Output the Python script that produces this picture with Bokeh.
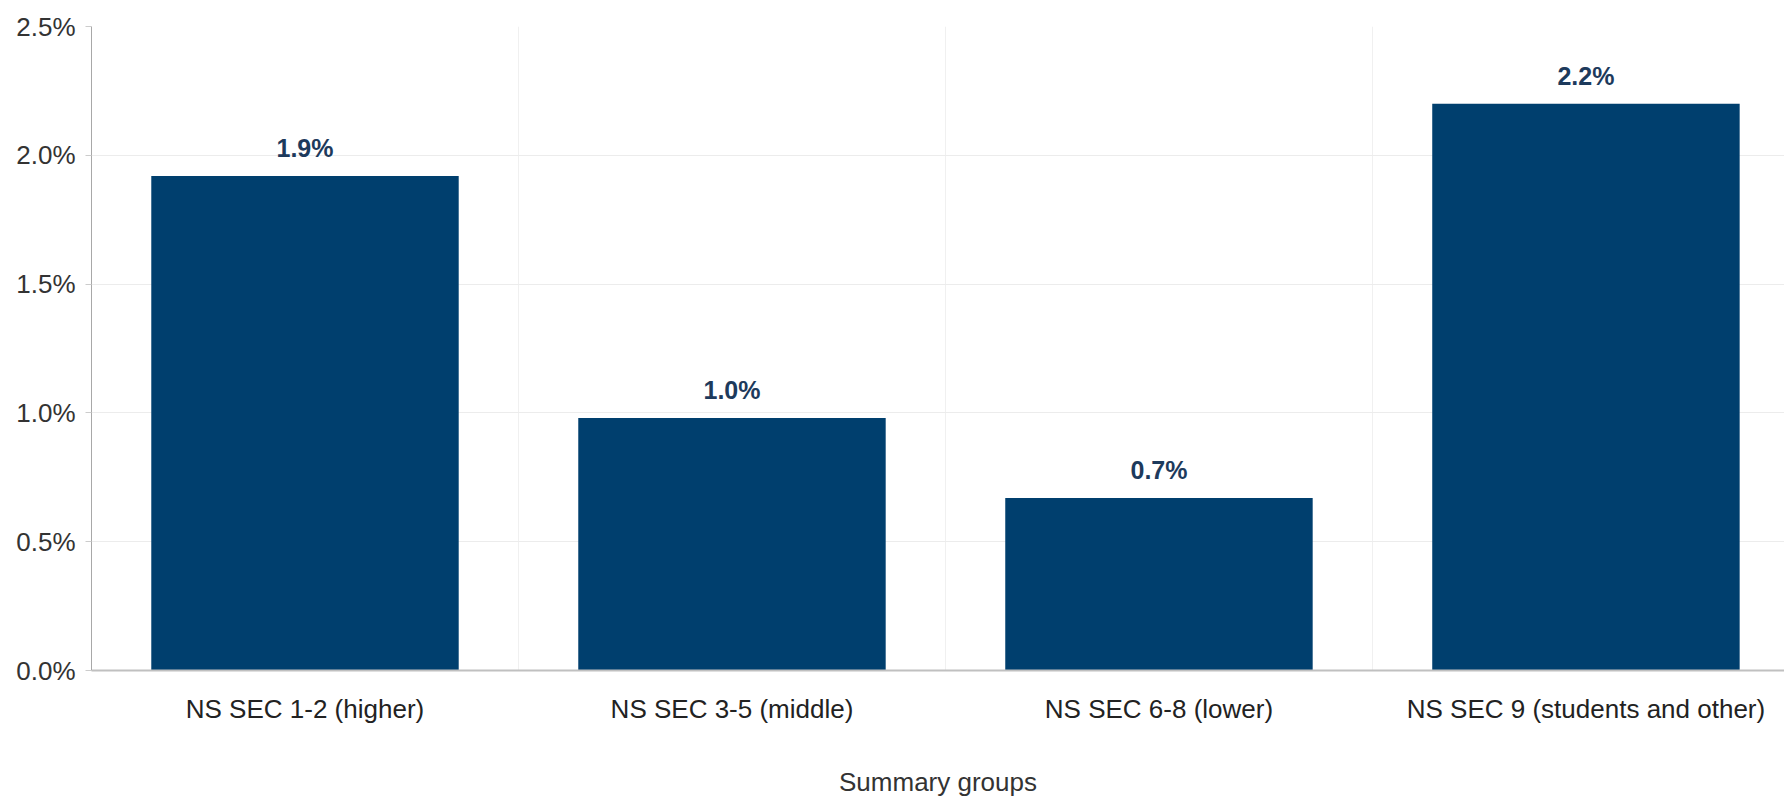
from bokeh.plotting import figure
from bokeh.models import Range1d, FixedTicker, PrintfTickFormatter, ColumnDataSource
from bokeh.core.properties import value
from bokeh.embed import file_html
from bokeh.resources import INLINE

categories = ["NS SEC 1-2 (higher)", "NS SEC 3-5 (middle)", "NS SEC 6-8 (lower)", "NS SEC 9 (students and other)"]
values = [1.92, 0.98, 0.67, 2.2]
y_ticks = [0.0, 0.5, 1.0, 1.5, 2.0, 2.5]
x_title = "Summary groups"

FONT = "Liberation Sans"
BAR = "#003f6e"

xs = list(range(len(categories)))
labels = [f"{v:.1f}%" for v in values]
src = ColumnDataSource(dict(x=xs, top=values, label=labels))

p = figure(width=1784, height=799, output_backend="svg", toolbar_location=None,
           x_range=Range1d(-0.5, 3.465), y_range=Range1d(0, 2.5),
           min_border_left=91, min_border_right=0, min_border_top=26, min_border_bottom=100)
p.outline_line_color = None
p.background_fill_color = "white"

p.vbar(x="x", top="top", width=0.72, bottom=0, source=src, fill_color=BAR, line_color=None)
p.text(x="x", y="top", text="label", source=src, text_align="center", text_baseline="middle",
       y_offset=-28, text_font=value(FONT), text_font_size="25px", text_font_style="bold",
       text_color="#1d3a5c")

# y axis
p.yaxis.ticker = FixedTicker(ticks=y_ticks)
p.yaxis.formatter = PrintfTickFormatter(format="%.1f%%")
p.yaxis.major_label_text_font = FONT
p.yaxis.major_label_text_font_size = "26px"
p.yaxis.major_label_text_color = "#333333"
p.yaxis.major_tick_in = 0
p.yaxis.major_tick_out = 6
p.yaxis.major_tick_line_color = "#cccccc"
p.yaxis.minor_tick_line_color = None
p.yaxis.axis_line_color = "#a8a8a8"
p.yaxis.major_label_standoff = 10

# x axis
p.xaxis.ticker = FixedTicker(ticks=xs)
p.xaxis.major_label_overrides = {i: c for i, c in zip(xs, categories)}
p.xaxis.major_label_text_font = FONT
p.xaxis.major_label_text_font_size = "26px"
p.xaxis.major_label_text_color = "#222222"
p.xaxis.major_tick_line_color = None
p.xaxis.minor_tick_line_color = None
p.xaxis.axis_line_color = "#c0c0c0"
p.xaxis.axis_line_width = 2
p.xaxis.major_label_standoff = 17
p.xaxis.axis_label = x_title
p.xaxis.axis_label_text_font = FONT
p.xaxis.axis_label_text_font_size = "26px"
p.xaxis.axis_label_text_font_style = "normal"
p.xaxis.axis_label_text_color = "#333333"
p.xaxis.axis_label_standoff = 40

# grids
p.ygrid.grid_line_color = "#ececec"
p.ygrid.grid_line_width = 1
p.xgrid.ticker = FixedTicker(ticks=[0.5, 1.5, 2.5])
p.xgrid.grid_line_color = "#f0f0f0"

open("out.html", "w").write(file_html(p, INLINE))
